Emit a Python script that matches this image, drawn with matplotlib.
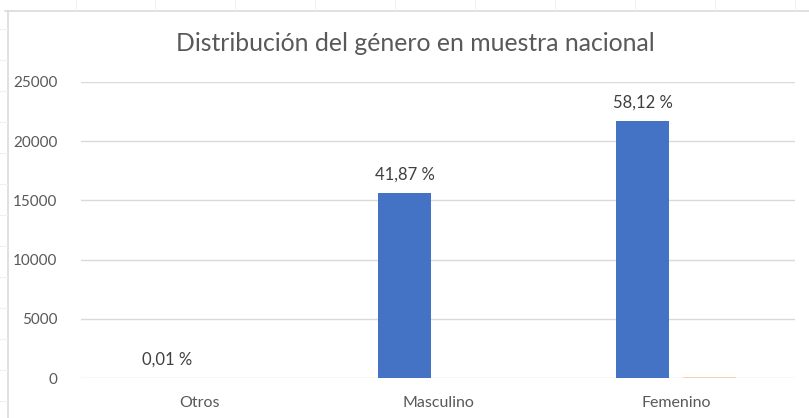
import numpy as np
import matplotlib
matplotlib.use("Agg")
from matplotlib import pyplot as plt
from matplotlib.lines import Line2D

categories = ["Otros", "Masculino", "Femenino"]
counts = [4, 15630, 21700]
percents = [0.01, 41.87, 58.12]
pct_labels = ["0,01 %", "41,87 %", "58,12 %"]
yticks = [0, 5000, 10000, 15000, 20000, 25000]

plt.rcParams['font.family'] = ['Lato', 'DejaVu Sans']
text_color = '#595959'
grid_color = '#d9d9d9'

fig = plt.figure(figsize=(8.09, 4.18), dpi=100)
ax = fig.add_axes([81 / 809, 40 / 418, 714 / 809, 296 / 418])

x = np.arange(len(categories))
width = 0.225
off = 0.14
ax.bar(x - off, counts, width=width, color='#4472C4', zorder=3)
ax.bar(x + off, percents, width=width, color='#F4B183', alpha=0.6, zorder=3)

for xi, c, lab in zip(x, counts, pct_labels):
    ax.annotate(lab, (xi - off, c), xytext=(0, 13), textcoords='offset points',
                ha='center', va='center', fontsize=12, color='#404040')

ax.set_xlim(-0.5, len(categories) - 0.5)
ax.set_ylim(0, 25000)
ax.set_yticks(yticks)
ax.set_yticklabels([str(t) for t in yticks])
ax.set_xticks(x)
ax.set_xticklabels(categories)
ax.tick_params(axis='both', length=0, colors=text_color, labelsize=11)
ax.tick_params(axis='x', labelsize=11.5)
ax.tick_params(axis='y', pad=17)
ax.tick_params(axis='x', pad=13)
ax.grid(axis='y', color=grid_color, linewidth=1, zorder=0)
for s in ax.spines.values():
    s.set_visible(False)

fig.text(0.514, 0.895, "Distribución del género en muestra nacional",
         ha='center', va='center', fontsize=17.8, color=text_color)

# chart frame and spreadsheet cells around it
fig.add_artist(Line2D([8 / 809, 8 / 809], [0, 1 - 11 / 418], color='#dadada', lw=1.2, transform=fig.transFigure))
fig.add_artist(Line2D([5 / 809, 1], [1 - 11 / 418, 1 - 11 / 418], color='#dadada', lw=1.2, transform=fig.transFigure))
for cx in [76, 155, 235, 315, 395, 475, 555, 635, 715, 795]:
    fig.add_artist(Line2D([cx / 809, cx / 809], [1 - 10 / 418, 1], color='#f0f0f0', lw=0.8, transform=fig.transFigure))
for cy in range(29, 418, 31):
    fig.add_artist(Line2D([0, 7 / 809], [1 - cy / 418, 1 - cy / 418], color='#f0f0f0', lw=0.8, transform=fig.transFigure))

fig.savefig("out.png", dpi=100)
